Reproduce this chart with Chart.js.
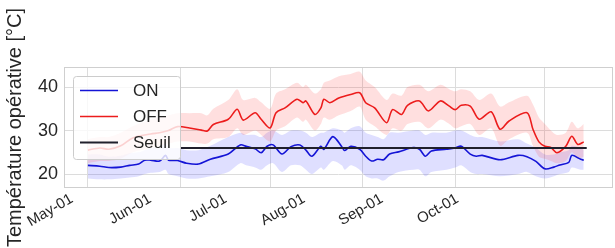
<!DOCTYPE html>
<html>
<head>
<meta charset="utf-8">
<script src="https://cdn.jsdelivr.net/npm/chart.js@4.4.1/dist/chart.umd.min.js"></script>
<style>
  html, body { margin: 0; padding: 0; background: #fff; }
  #wrap { width: 615px; height: 248px; }
</style>
</head>
<body>
<div id="wrap"><canvas id="chart" width="615" height="248"></canvas></div>
<script>
// days counted from May-01
const monthDays = [0, 31, 61, 92, 123, 153];
const monthLabels = ['May-01', 'Jun-01', 'Jul-01', 'Aug-01', 'Sep-01', 'Oct-01'];
const yTicks = [20, 30, 40];

const seuilDays = [31, 167];
const seuilTemp = [26, 26];

const onDays = [0, 4, 7, 11, 14, 17, 19, 21, 24, 26, 27, 30, 33, 37, 41, 47, 51, 53, 56, 58,
  60, 62, 65, 68, 71, 73, 75, 78, 79, 82, 85, 86, 88, 91, 93, 95, 97, 99, 101, 104,
  109, 111, 113, 115, 120, 123, 125, 128, 130, 132, 138, 144, 147, 150, 153, 156, 158, 161, 162, 165, 166];
const onTemp = [22.0, 21.8, 21.5, 21.6, 22.0, 22.3, 23.2, 23.2, 23.0, 24.3, 23.2, 23.1, 22.5, 22.3, 23.4, 24.6, 26.7, 26.4, 25.8, 24.9,
  26.4, 26.7, 24.6, 26.3, 26.7, 25.5, 24.1, 26.4, 25.7, 28.6, 26.3, 25.4, 26.4, 25.7, 24.1, 23.0, 23.4, 23.3, 24.6, 25.1,
  26.1, 25.7, 24.1, 25.3, 25.7, 26.0, 26.4, 24.6, 24.1, 24.3, 23.3, 24.3, 24.0, 22.9, 21.2, 21.6, 22.1, 22.7, 24.3, 23.4, 23.2];
const onLow = [19.0, 18.8, 18.8, 19.0, 19.2, 19.5, 20.0, 20.3, 20.5, 21.0, 20.0, 19.5, 19.0, 19.0, 19.5, 20.5, 22.5, 22.0, 21.5, 21.0,
  22.0, 22.5, 20.5, 22.0, 22.0, 21.0, 20.0, 21.5, 21.0, 23.0, 22.0, 21.0, 22.0, 21.0, 19.5, 19.0, 19.0, 18.5, 19.5, 20.5,
  21.0, 21.0, 19.5, 20.5, 21.0, 21.5, 22.0, 20.5, 20.0, 20.0, 19.5, 20.0, 20.5, 19.5, 19.0, 19.5, 20.0, 20.5, 21.5, 21.0, 21.0];
const onHigh = [24.5, 24.5, 24.0, 24.2, 24.8, 25.0, 25.5, 26.0, 26.3, 27.0, 26.0, 26.0, 25.5, 25.5, 26.5, 28.5, 29.5, 29.0, 29.0, 28.5,
  29.5, 30.0, 29.0, 30.0, 30.0, 29.5, 28.5, 29.5, 29.5, 30.5, 30.0, 29.5, 30.5, 31.0, 29.5, 29.0, 28.5, 28.0, 29.5, 29.5,
  30.0, 30.0, 29.0, 29.5, 29.5, 30.0, 30.0, 29.0, 28.5, 28.5, 27.5, 28.0, 27.0, 26.0, 24.5, 24.5, 25.0, 25.5, 26.5, 26.0, 25.5];

const offDays = [0, 4, 7, 11, 15, 21, 24, 27, 30, 34, 38, 40, 42, 47, 50, 52, 56, 58, 61, 63,
  66, 70, 72, 73, 76, 78, 79, 81, 84, 88, 91, 93, 96, 100, 102, 105, 107, 111, 114, 118,
  121, 123, 125, 128, 131, 135, 138, 141, 147, 149, 151, 153, 155, 157, 160, 162, 164, 166];
const offTemp = [25.5, 26.0, 25.7, 26.5, 28.3, 29.2, 29.5, 30.0, 30.9, 30.6, 30.1, 29.9, 31.4, 32.6, 34.9, 32.4, 34.1, 32.6, 30.6, 34.1,
  35.2, 37.2, 36.4, 36.8, 33.7, 35.2, 37.2, 36.4, 37.5, 38.3, 38.7, 36.4, 35.2, 31.8, 34.8, 33.7, 35.8, 36.8, 34.5, 36.8,
  35.6, 34.8, 35.8, 35.6, 32.6, 34.3, 30.3, 32.2, 34.1, 30.3, 27.4, 26.4, 26.1, 24.9, 26.4, 28.7, 26.8, 27.4];
const offLow = [22.5, 23.0, 23.0, 23.5, 25.0, 26.0, 26.5, 27.0, 27.5, 27.5, 27.0, 27.0, 28.0, 28.5, 30.5, 29.0, 30.0, 29.0, 27.5, 30.0,
  31.0, 33.0, 32.0, 32.5, 30.0, 31.5, 33.0, 32.5, 33.5, 34.5, 35.5, 32.5, 31.0, 29.0, 30.5, 30.0, 31.5, 32.0, 30.5, 32.5,
  31.5, 30.5, 31.0, 31.5, 29.0, 30.5, 26.5, 28.0, 29.5, 26.5, 24.0, 23.5, 23.0, 22.5, 23.0, 25.0, 23.5, 24.0];
const offHigh = [28.0, 28.5, 28.5, 29.5, 31.0, 32.5, 33.0, 33.5, 34.0, 34.0, 34.0, 33.5, 35.0, 37.0, 39.5, 37.0, 37.5, 36.5, 35.0, 38.5,
  39.5, 41.0, 40.0, 40.5, 38.5, 39.5, 41.0, 41.5, 42.5, 43.0, 43.5, 41.5, 40.0, 37.0, 38.5, 38.0, 40.0, 40.5, 39.0, 40.5,
  39.5, 39.0, 39.5, 39.0, 37.0, 38.5, 35.5, 36.5, 38.0, 36.0, 33.0, 31.5, 30.0, 29.0, 29.5, 32.0, 30.5, 31.5];

const pts = (xs, ys) => xs.map((x, i) => ({ x, y: ys[i] }));

const TEXT = '#262626';
const GRID = '#dcdcdc';
const FAMILY = "'Liberation Sans', Arial, sans-serif";

const framePlugin = {
  id: 'frame',
  beforeDatasetsDraw(chart) {
    const { ctx, chartArea: a } = chart;
    ctx.save();
    ctx.strokeStyle = '#cfcfcf';
    ctx.lineWidth = 1;
    ctx.strokeRect(a.left + 0.5, a.top + 0.5, a.right - a.left - 1, a.bottom - a.top - 1);
    ctx.restore();
  },
};

const legendPlugin = {
  id: 'boxLegend',
  afterDatasetsDraw(chart) {
    const { ctx } = chart;
    const items = chart.data.datasets.filter((ds) => !ds.band);
    const x0 = 73, y0 = 76, w = 107, h = 83;
    ctx.save();
    ctx.beginPath();
    ctx.roundRect(x0 + 0.5, y0 + 0.5, w, h, 3);
    ctx.fillStyle = 'rgba(255,255,255,0.8)';
    ctx.fill();
    ctx.strokeStyle = '#cccccc';
    ctx.lineWidth = 1;
    ctx.stroke();
    ctx.font = `17px ${FAMILY}`;
    ctx.textBaseline = 'middle';
    ctx.textAlign = 'left';
    items.forEach((ds, i) => {
      const y = y0 + 14.5 + i * 26;
      ctx.strokeStyle = ds.borderColor;
      ctx.lineWidth = ds.borderWidth;
      ctx.beginPath();
      ctx.moveTo(x0 + 7, y);
      ctx.lineTo(x0 + 45, y);
      ctx.stroke();
      ctx.fillStyle = TEXT;
      ctx.fillText(ds.label, x0 + 60, y + 1);
    });
    ctx.restore();
  },
};

const ctx = document.getElementById('chart').getContext('2d');
new Chart(ctx, {
  type: 'line',
  data: {
    datasets: [
      { label: 'ON', data: pts(onDays, onTemp), borderColor: '#1414d6', borderWidth: 1.6, order: 0 },
      { label: 'OFF', data: pts(offDays, offTemp), borderColor: '#ec1c1c', borderWidth: 1.6, order: 0 },
      { label: 'Seuil', data: pts(seuilDays, seuilTemp), borderColor: '#20202c', borderWidth: 2, tension: 0, order: -1 },
      { label: 'on-low', band: true, data: pts(onDays, onLow), borderWidth: 0, borderColor: 'transparent', order: 3 },
      { label: 'on-high', band: true, data: pts(onDays, onHigh), borderWidth: 0, borderColor: 'transparent',
        fill: '-1', backgroundColor: 'rgba(40,40,255,0.15)', order: 3 },
      { label: 'off-low', band: true, data: pts(offDays, offLow), borderWidth: 0, borderColor: 'transparent', order: 2 },
      { label: 'off-high', band: true, data: pts(offDays, offHigh), borderWidth: 0, borderColor: 'transparent',
        fill: '-1', backgroundColor: 'rgba(255,40,40,0.15)', order: 2 },
    ],
  },
  options: {
    responsive: false,
    animation: false,
    layout: { padding: { top: 67, right: 2, bottom: 0, left: 0 } },
    elements: { point: { radius: 0 }, line: { tension: 0.3, fill: false } },
    plugins: { legend: { display: false }, tooltip: { enabled: false } },
    scales: {
      x: {
        type: 'linear',
        min: -8,
        max: 175.8,
        grid: { color: GRID, drawTicks: false },
        border: { display: false },
        ticks: { display: false },
        afterBuildTicks: (axis) => { axis.ticks = monthDays.map((v) => ({ value: v })); },
        afterFit: (axis) => { axis.height = 0; },
      },
      xl: {
        type: 'linear',
        position: 'bottom',
        min: -3.17,
        max: 214.7,
        grid: { display: false, drawTicks: false },
        border: { display: false },
        afterBuildTicks: (axis) => { axis.ticks = monthDays.map((v) => ({ value: v })); },
        ticks: {
          autoSkip: false,
          minRotation: 30,
          maxRotation: 30,
          padding: 2,
          color: TEXT,
          font: { family: FAMILY, size: 15 },
          callback: (value, index) => monthLabels[index],
        },
        afterFit: (axis) => { axis.height = 60; },
      },
      y: {
        min: 16.8,
        max: 44.6,
        grid: { color: GRID, drawTicks: false },
        border: { display: false },
        afterBuildTicks: (axis) => { axis.ticks = yTicks.map((v) => ({ value: v })); },
        ticks: { padding: 6, color: TEXT, font: { family: FAMILY, size: 18 } },
        title: {
          display: true,
          text: 'Température opérative [°C]',
          color: TEXT,
          font: { family: FAMILY, size: 20 },
          padding: { top: 3, bottom: 0 },
        },
        afterFit: (axis) => { axis.width = 64; },
      },
    },
  },
  plugins: [framePlugin, legendPlugin],
});
</script>
</body>
</html>
